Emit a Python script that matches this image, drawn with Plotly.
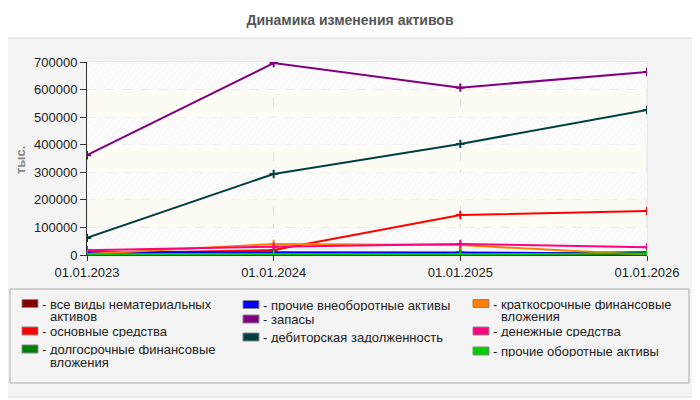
import plotly.graph_objects as go

# dates on the x axis
dates = ['01.01.2023', '01.01.2024', '01.01.2025', '01.01.2026']

# values, thousands
intangible = [500, 500, 500, 500]
fixed_assets = [5000, 18000, 145000, 160000]
long_fin = [1000, 1000, 3000, 11000]
other_noncurrent = [10000, 9000, 9000, 5000]
stocks = [362000, 696000, 607000, 664000]
receivables = [62000, 294000, 403000, 526000]
short_fin = [4000, 40000, 36000, 1000]
cash = [17000, 30000, 40000, 28000]
other_current = [2000, 2000, 3000, 5000]

series_names = [
    'все виды нематериальных активов',
    'основные средства',
    'долгосрочные финансовые вложения',
    'прочие внеоборотные активы',
    'запасы',
    'дебиторская задолженность',
    'краткосрочные финансовые вложения',
    'денежные средства',
    'прочие оборотные активы',
]
series_values = [intangible, fixed_assets, long_fin, other_noncurrent, stocks,
                 receivables, short_fin, cash, other_current]
colors = ['#800000', '#ff0000', '#008000', '#0000ff', '#800080',
          '#004040', '#ff8000', '#ff0080', '#00cc00']

y_ticks = [0, 100000, 200000, 300000, 400000, 500000, 600000, 700000]

# the page puts the figure 8px in from the top-left corner
OFF = 8
W, H = 700 - OFF, 400 - OFF
# plot area in screen pixels
L, R, T, B = 87, 647, 62, 255

xpos = list(range(len(dates)))

fig = go.Figure()

# hatched background bands (every second gap between y ticks)
band_base = y_ticks[:-1:2]
band_h = [y_ticks[i + 1] - y_ticks[i] for i in range(0, len(y_ticks) - 1, 2)]
fig.add_trace(go.Bar(
    x=[(xpos[0] + xpos[-1]) / 2] * len(band_base), y=band_h, base=band_base,
    width=xpos[-1] - xpos[0], hoverinfo='skip', showlegend=False,
    marker=dict(color='#fbfbfb', line_width=0,
                pattern=dict(shape='/', fgcolor='#e6e6e6', bgcolor='#fbfbfb',
                             size=5, solidity=0.15))))

for name, vals, col in zip(series_names, series_values, colors):
    fig.add_trace(go.Scatter(
        x=xpos, y=vals, name=name, mode='lines+markers',
        line=dict(color=col, width=2),
        marker=dict(symbol='cross-thin', size=6, line=dict(color=col, width=2)),
        showlegend=False))


def px(x):
    return (x - L) / (R - L)


def py(y):
    return (B - y) / (B - T)


# panel around chart
fig.add_shape(type='rect', xref='paper', yref='paper', layer='below',
              x0=px(2), x1=px(697), y0=py(397), y1=py(38),
              fillcolor='#f4f4f4', line=dict(color='#dddddd', width=1))
# plot area fill + light frame on top / right
fig.add_shape(type='rect', xref='paper', yref='paper', layer='below',
              x0=0, x1=1, y0=0, y1=1, fillcolor='#fcfcf5',
              line=dict(color='#dddddd', width=1))
# legend box
fig.add_shape(type='rect', xref='paper', yref='paper', layer='below',
              x0=px(10), x1=px(689), y0=py(383), y1=py(289),
              fillcolor='#f4f4f4', line=dict(color='#aaaaaa', width=1))

# manual legend: column x, first line y, lines of text
legend_items = [
    (22, 303.5, ['все виды нематериальных', 'активов']),
    (22, 331, ['основные средства']),
    (22, 349, ['долгосрочные финансовые', 'вложения']),
    (243, 304.5, ['прочие внеоборотные активы']),
    (243, 319, ['запасы']),
    (243, 337, ['дебиторская задолженность']),
    (473, 303.5, ['краткосрочные финансовые', 'вложения']),
    (473, 331, ['денежные средства']),
    (473, 351, ['прочие оборотные активы']),
]
for (lx, ly, lines), col in zip(legend_items, colors):
    fig.add_shape(type='rect', xref='paper', yref='paper',
                  x0=px(lx), x1=px(lx + 16), y0=py(ly + 4), y1=py(ly - 4),
                  fillcolor=col, line=dict(color='#888888', width=1))
    for i, t in enumerate(lines):
        if i == 0:
            t, tx = '- ' + t, lx + 19
        else:
            tx = lx + 27
        fig.add_annotation(xref='paper', yref='paper', x=px(tx), y=py(ly + 12.5 * i),
                           text=t, showarrow=False, xanchor='left', yanchor='middle',
                           height=12, borderpad=0,
                           font=dict(size=13, color='#222222'))

# y axis title
fig.add_annotation(xref='paper', yref='paper', x=px(20), y=py(160), text='<b>тыс.</b>',
                   textangle=-90, showarrow=False, xanchor='center', yanchor='middle',
                   font=dict(size=13, color='#888888'))

fig.update_layout(
    width=W, height=H,
    margin=dict(l=L - OFF, r=700 - R, t=T - OFF, b=400 - B),
    paper_bgcolor='white',
    plot_bgcolor='#fcfcf5',
    font=dict(family='Liberation Sans, Arial, sans-serif', size=13, color='#222222'),
    title=dict(text='<b>Динамика изменения активов</b>', x=px(350), xref='paper',
               xanchor='center', y=1 - (20 - OFF) / H, yanchor='middle',
               font=dict(size=14, color='#555555')),
    xaxis=dict(range=[xpos[0], xpos[-1]], tickvals=xpos, ticktext=dates,
               showgrid=True, gridcolor='#dddddd', griddash='dash', gridwidth=1,
               showline=True, linecolor='#333333', linewidth=1,
               ticks='outside', ticklen=5, tickcolor='#333333', zeroline=False,
               automargin=False),
    yaxis=dict(range=[0, 700000], tickvals=y_ticks, tickformat='d', showgrid=True,
               gridcolor='#dddddd', griddash='dash', showline=True, linecolor='#333333',
               ticks='outside', ticklen=6, tickcolor='#333333', zeroline=False,
               automargin=False),
)

fig.write_html('out.html')
